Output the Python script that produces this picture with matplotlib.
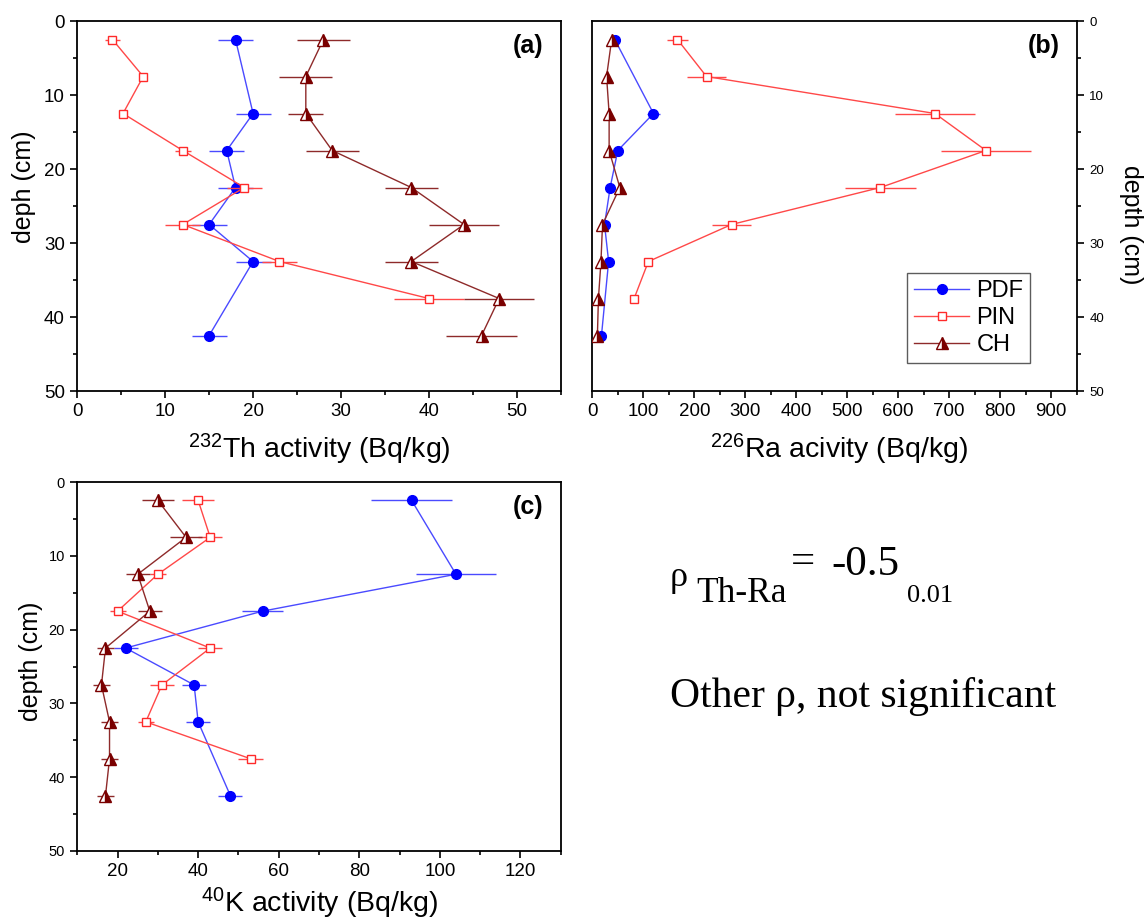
import matplotlib
matplotlib.use("Agg")
import matplotlib.pyplot as plt
from matplotlib.lines import Line2D
from matplotlib.ticker import MultipleLocator, FixedLocator

plt.rcParams['font.family'] = ['Liberation Sans', 'DejaVu Sans']
plt.rcParams['mathtext.default'] = 'regular'

# ---------------- data ----------------
depth_all = [2.5, 7.5, 12.5, 17.5, 22.5, 27.5, 32.5, 37.5, 42.5]
depth_pdf = [2.5, 12.5, 17.5, 22.5, 27.5, 32.5, 42.5]
depth_pin = [2.5, 7.5, 12.5, 17.5, 22.5, 27.5, 32.5, 37.5]

# 232Th
th_pdf = [18, 20, 17, 18, 15, 20, 15]
th_pdf_err = [2, 2, 2, 2, 2, 2, 2]
th_pin = [4, 7.5, 5.2, 12, 19, 12, 23, 40]
th_pin_err = [0.9, 0.3, 0.3, 0.9, 2, 2, 2, 4]
th_ch = [28, 26, 26, 29, 38, 44, 38, 48, 46]
th_ch_err = [3, 3, 2, 3, 3, 4, 3, 4, 4]

# 226Ra
ra_pdf = [44, 120, 50, 35, 24, 32, 18]
ra_pdf_err = [6, 13, 6, 5, 4, 5, 4]
ra_pin = [167, 224, 672, 772, 565, 273, 110, 82]
ra_pin_err = [20, 39, 79, 89, 70, 39, 8, 5]
ra_ch = [38, 28, 33, 33, 54, 20, 17, 12, 10]
ra_ch_err = [5, 5, 5, 5, 5, 5, 5, 5, 5]

# 40K
k_pdf = [93, 104, 56, 22, 39, 40, 48]
k_pdf_err = [10, 10, 5, 3, 3, 3, 3]
k_pin = [40, 43, 30, 20, 43, 31, 27, 53]
k_pin_err = [4, 3, 2, 2, 3, 3, 2, 3]
k_ch = [30, 37, 25, 28, 17, 16, 18, 18, 17]
k_ch_err = [4, 4, 3, 3, 2, 2, 2, 2, 2]

series_names = ['PDF', 'PIN', 'CH']

# ---------------- styles ----------------
C_PDF_M, C_PDF_L = '#0000ff', '#4a4aff'
C_PIN_M, C_PIN_L = '#ff2a2a', '#ff4848'
C_CH_M, C_CH_L = '#7a0000', '#8e2a2a'

W, H = 1145, 919
fig = plt.figure(figsize=(W / 100, H / 100), dpi=100)


def fx(px):
    return px / W


def fy(py):
    return 1 - py / H


def rect(l, t, r, b):
    return [fx(l), fy(b), fx(r) - fx(l), fy(t) - fy(b)]


axA = fig.add_axes(rect(77.3, 21, 560.7, 391))
axB = fig.add_axes(rect(592.3, 21, 1076.7, 391))
axC = fig.add_axes(rect(77.3, 482, 560.7, 851))


def draw(ax, x_pdf, e_pdf, x_pin, e_pin, x_ch, e_ch):
    ax.errorbar(x_pdf, depth_pdf, xerr=e_pdf, color=C_PDF_L, ecolor=C_PDF_L,
                lw=1.0, elinewidth=1.0, capsize=0, marker='o', ms=7,
                mfc=C_PDF_M, mec=C_PDF_M, zorder=3)
    ax.errorbar(x_pin, depth_pin, xerr=e_pin, color=C_PIN_L, ecolor=C_PIN_L,
                lw=1.0, elinewidth=1.0, capsize=0, marker='s', ms=6,
                mfc='white', mec=C_PIN_M, mew=1.0, zorder=4)
    ax.errorbar(x_ch, depth_all, xerr=e_ch, color=C_CH_L, ecolor=C_CH_L,
                lw=1.0, elinewidth=1.0, capsize=0, marker='^', ms=8,
                fillstyle='right', mfc=C_CH_M, mfcalt='white', mec=C_CH_M,
                mew=1.0, zorder=5)


draw(axA, th_pdf, th_pdf_err, th_pin, th_pin_err, th_ch, th_ch_err)
draw(axB, ra_pdf, ra_pdf_err, ra_pin, ra_pin_err, ra_ch, ra_ch_err)
draw(axC, k_pdf, k_pdf_err, k_pin, k_pin_err, k_ch, k_ch_err)

for ax in (axA, axB, axC):
    ax.set_ylim(50, 0)
    ax.yaxis.set_major_locator(MultipleLocator(10))
    ax.yaxis.set_minor_locator(MultipleLocator(5))
    for s in ax.spines.values():
        s.set_linewidth(1.3)
    ax.tick_params(which='major', direction='out', length=5, width=1.2, pad=4)
    ax.tick_params(which='minor', direction='out', length=3, width=1.2)

axA.set_xlim(0, 55)
axA.xaxis.set_major_locator(MultipleLocator(10))
axA.xaxis.set_minor_locator(MultipleLocator(5))
axA.tick_params(axis='both', which='major', labelsize=13.5)

axB.set_xlim(0, 950)
axB.xaxis.set_major_locator(MultipleLocator(100))
axB.xaxis.set_minor_locator(MultipleLocator(50))
axB.tick_params(axis='x', which='major', labelsize=13.5)
axB.yaxis.tick_right()
axB.tick_params(axis='y', which='major', labelsize=9.5)

axC.set_xlim(10, 130)
axC.xaxis.set_major_locator(FixedLocator([20, 40, 60, 80, 100, 120]))
axC.xaxis.set_minor_locator(MultipleLocator(10))
axC.tick_params(axis='x', which='major', labelsize=13.5)
axC.tick_params(axis='y', which='major', labelsize=10.5)

# panel letters
for ax, lab in ((axA, '(a)'), (axB, '(b)'), (axC, '(c)')):
    ax.text(0.965, 0.965, lab, transform=ax.transAxes, ha='right', va='top',
            fontsize=18, fontweight='bold')

# axis labels
fig.text(fx(23.5), fy(187), 'deph (cm)', rotation=90, ha='center', va='center', fontsize=18)
fig.text(fx(31), fy(661), 'depth (cm)', rotation=90, ha='center', va='center', fontsize=18)
fig.text(fx(1131), fy(225), 'depth (cm)', rotation=270, ha='center', va='center', fontsize=18)
fig.text(fx(319), fy(458), r'$^{232}$Th activity (Bq/kg)', ha='center', va='baseline', fontsize=20.5)
fig.text(fx(839), fy(458), r'$^{226}$Ra acivity (Bq/kg)', ha='center', va='baseline', fontsize=20.5)
fig.text(fx(320), fy(912), r'$^{40}$K activity (Bq/kg)', ha='center', va='baseline', fontsize=20.5)

# legend
handles = [
    Line2D([], [], color=C_PDF_L, lw=1.0, marker='o', ms=7, mfc=C_PDF_M, mec=C_PDF_M),
    Line2D([], [], color=C_PIN_L, lw=1.0, marker='s', ms=6, mfc='white', mec=C_PIN_M),
    Line2D([], [], color=C_CH_L, lw=1.0, marker='^', ms=8, fillstyle='right',
           mfc=C_CH_M, mfcalt='white', mec=C_CH_M),
]
leg = fig.legend(handles, series_names, loc='upper left',
                 bbox_to_anchor=(fx(906.7), fy(273.3)), frameon=True,
                 fancybox=False, edgecolor='#333333', fontsize=17,
                 handlelength=2.35, handletextpad=0.3, borderpad=0.3,
                 labelspacing=0.2, borderaxespad=0)
leg.get_frame().set_linewidth(1.0)

# correlation text
serif = ['Liberation Serif', 'DejaVu Serif']
fig.text(fx(670), fy(586), 'ρ', fontsize=26, family=serif, va='baseline')
fig.text(fx(696), fy(601.5), 'Th-Ra', fontsize=25.5, family=serif, va='baseline')
fig.text(fx(791), fy(573), '=', fontsize=31, family=serif, va='baseline')
fig.text(fx(831), fy(575), '-0.5', fontsize=31, family=serif, va='baseline')
fig.text(fx(907), fy(601.5), '0.01', fontsize=19, family=serif, va='baseline')
fig.text(fx(670), fy(707), 'Other ρ, not significant', fontsize=30, family=serif, va='baseline')

fig.savefig('out.png', dpi=100)
